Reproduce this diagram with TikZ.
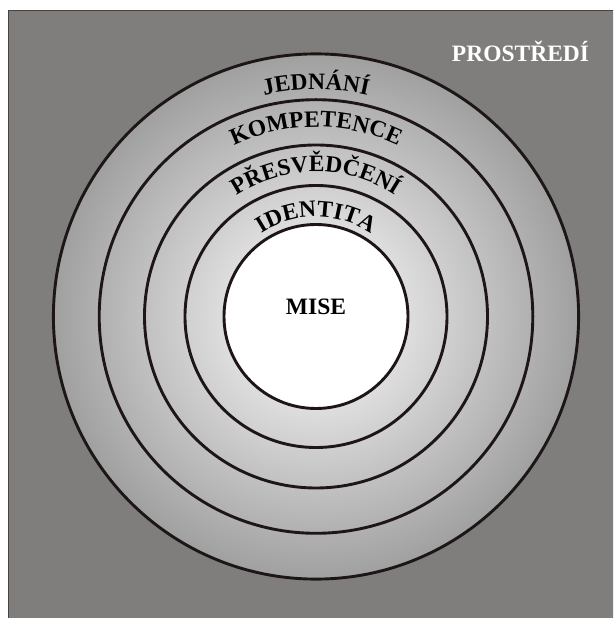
\documentclass[tikz,border=0pt]{standalone}
\usepackage{fontspec}
\setmainfont{Liberation Serif}
\usetikzlibrary{decorations.text}
\definecolor{bggray}{RGB}{128,126,124}
\definecolor{ringgray}{RGB}{160,160,160}
\definecolor{ringline}{RGB}{30,22,22}
\definecolor{frameline}{RGB}{70,66,64}
\pgfdeclareradialshading{ringshade}{\pgfpoint{0bp}{0bp}}{color(0bp)=(white); color(25bp)=(ringgray); color(50bp)=(ringgray)}
\newcommand\ringfont{\bfseries\fontsize{23.5}{23.5}\selectfont}
\begin{document}
\begin{tikzpicture}[x=1pt,y=1pt,
  ring/.style={draw=ringline, line width=2.9pt},
  lbl/.style={font=\ringfont, inner sep=0pt, anchor=base}]
\useasboundingbox (0,0) rectangle (613,618);
\clip (0,0) rectangle (613,618);
% background
\fill[bggray] (8.5,-5) rectangle (620,607);
\draw[frameline, line width=1pt] (8.5,-5) -- (8.5,607) -- (620,607);
\coordinate (C) at (316,301.5);
% rings
\shade[shading=ringshade] (C) circle[radius=262.6];
\draw[ring] (C) circle[radius=262.6];
\draw[ring] (C) circle[radius=216.8];
\draw[ring] (C) circle[radius=171.5];
\draw[ring] (C) circle[radius=131];
\draw[ring, fill=white] (C) circle[radius=92];
% arc labels
\path[decorate, decoration={text along path, text align=center, text={|\ringfont|JEDNÁNÍ}}]
  ([shift={(180:227)}]C) arc[start angle=180, end angle=0, radius=227];
\path[decorate, decoration={text along path, text align=center, text={|\ringfont|KOMPETENCE}}]
  ([shift={(180:189.5)}]C) arc[start angle=180, end angle=0, radius=189.5];
\path[decorate, decoration={text along path, text align=center, text={|\ringfont|PŘESVĚDČENÍ}}]
  ([shift={(180:144.5)}]C) arc[start angle=180, end angle=0, radius=144.5];
\path[decorate, decoration={text along path, text align=center, text={|\ringfont|IDENTITA}}]
  ([shift={(180:99.5)}]C) arc[start angle=180, end angle=0, radius=99.5];
% plain labels
\node[lbl] (mise) at (316,303) {MISE};
\node[lbl, text=white] (prostredi) at (520.5,556.3) {PROSTŘEDÍ};
\end{tikzpicture}
\end{document}
